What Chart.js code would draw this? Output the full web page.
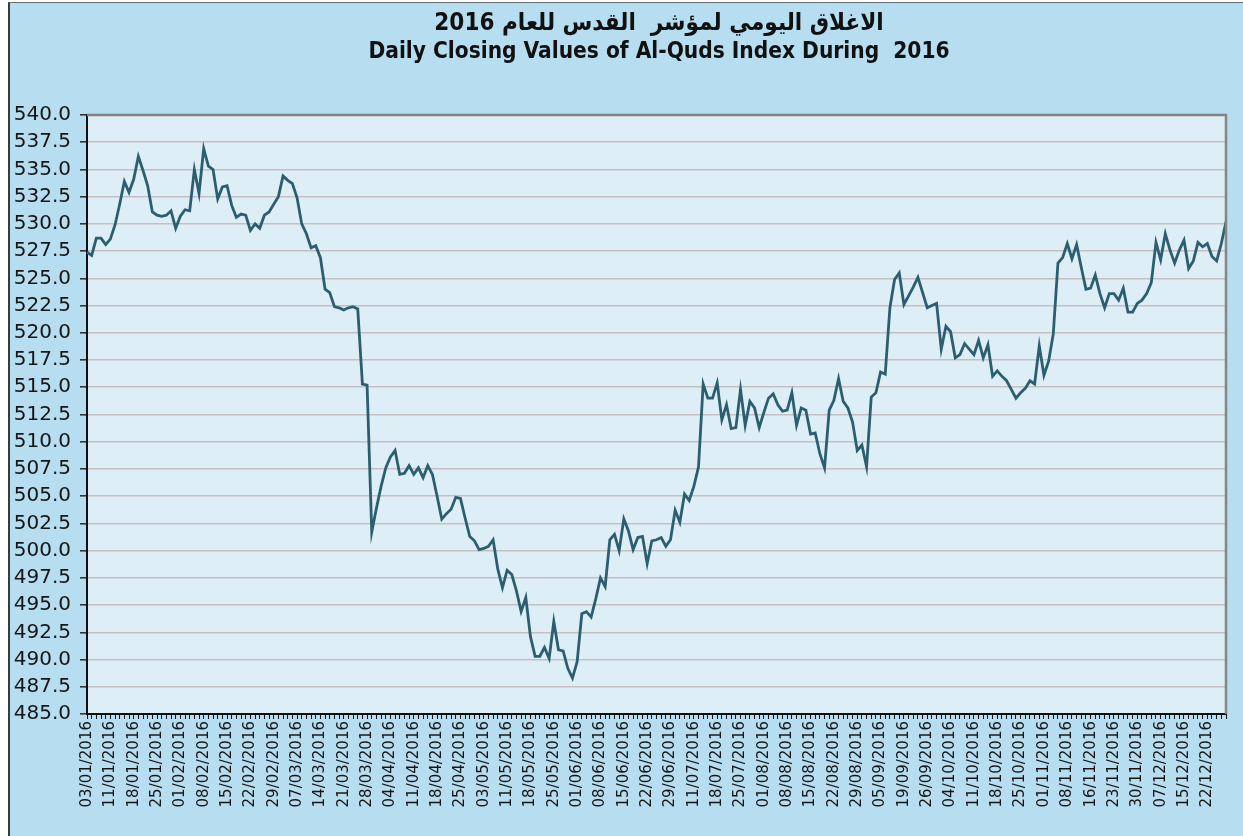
<!DOCTYPE html>
<html>
<head>
<meta charset="utf-8">
<script src="https://cdn.jsdelivr.net/npm/chart.js@4/dist/chart.umd.min.js"></script>
<style>
  body { margin: 0; background: #ffffff; overflow: hidden; }
  #frame {
    position: absolute; left: 8px; top: 2px; width: 1235px; height: 834px;
    background: #b7def0; border-left: 2px solid #3a3a3a; border-top: 1px solid #6a6a6a;
    box-sizing: border-box;
  }
  #id_canv { position: absolute; left: 0; top: 0; }
  .title {
    position: absolute; left: 0; width: 1318px; text-align: center;
    font-family: "Liberation Sans Narrow", "DejaVu Sans Condensed", "DejaVu Sans", sans-serif;
    font-weight: bold; color: #111; white-space: pre;
  }
  #t_ar { top: 8px; font-size: 24px; direction: rtl; font-family: "DejaVu Sans Condensed", "DejaVu Sans", sans-serif; }
  #t_en { top: 37px; font-size: 22.5px; }
</style>
</head>
<body>
<div id="frame">
  <canvas id="id_canv" width="1233" height="833"></canvas>
</div>
<div class="title" id="t_ar">الاغلاق اليومي لمؤشر  القدس للعام 2016</div>
<div class="title" id="t_en">Daily Closing Values of Al-Quds Index During  2016</div>
<script>
// weekly date labels shown under the axis (one every 5 trading days)
const tickLabels = [
  '03/01/2016', '11/01/2016', '18/01/2016', '25/01/2016', '01/02/2016', '08/02/2016',
  '15/02/2016', '22/02/2016', '29/02/2016', '07/03/2016', '14/03/2016', '21/03/2016',
  '28/03/2016', '04/04/2016', '11/04/2016', '18/04/2016', '25/04/2016', '03/05/2016',
  '11/05/2016', '18/05/2016', '25/05/2016', '01/06/2016', '08/06/2016', '15/06/2016',
  '22/06/2016', '29/06/2016', '11/07/2016', '18/07/2016', '25/07/2016', '01/08/2016',
  '08/08/2016', '15/08/2016', '22/08/2016', '29/08/2016', '05/09/2016', '19/09/2016',
  '26/09/2016', '04/10/2016', '11/10/2016', '18/10/2016', '25/10/2016', '01/11/2016',
  '08/11/2016', '16/11/2016', '23/11/2016', '30/11/2016', '07/12/2016', '15/12/2016',
  '22/12/2016'
]

// daily closing values
const closing = [
  527.4, 527.1, 528.7, 528.7, 528.1, 528.6, 529.9, 531.8, 533.9, 532.9,
  534.1, 536.2, 534.9, 533.5, 531.1, 530.8, 530.7, 530.8, 531.2, 529.6,
  530.7, 531.3, 531.2, 535.0, 532.8, 536.9, 535.3, 535.0, 532.3, 533.4,
  533.5, 531.7, 530.6, 530.9, 530.8, 529.4, 530.0, 529.6, 530.8, 531.1,
  531.8, 532.5, 534.4, 534.0, 533.7, 532.4, 530.0, 529.1, 527.8, 528.0,
  526.9, 524.0, 523.7, 522.4, 522.3, 522.1, 522.3, 522.4, 522.2, 515.3,
  515.2, 501.7, 503.9, 505.9, 507.6, 508.6, 509.2, 507.0, 507.1, 507.8,
  507.0, 507.6, 506.7, 507.8, 507.0, 505.0, 502.9, 503.4, 503.8, 504.9,
  504.8, 503.0, 501.3, 500.9, 500.1, 500.2, 500.4, 501.0, 498.3, 496.6,
  498.2, 497.8, 496.3, 494.4, 495.7, 492.1, 490.3, 490.3, 491.1, 490.1,
  493.5, 490.9, 490.8, 489.2, 488.3, 489.8, 494.2, 494.4, 493.9, 495.6,
  497.5, 496.7, 501.0, 501.5, 500.0, 502.9, 501.8, 500.1, 501.2, 501.3,
  498.8, 500.9, 501.0, 501.2, 500.4, 501.0, 503.7, 502.6, 505.2, 504.6,
  505.9, 507.7, 515.3, 514.0, 514.0, 515.4, 512.0, 513.4, 511.2, 511.3,
  514.8, 511.5, 513.7, 513.1, 511.3, 512.7, 514.0, 514.4, 513.4, 512.8,
  512.9, 514.5, 511.5, 513.1, 512.9, 510.7, 510.8, 508.9, 507.6, 512.9,
  513.8, 515.8, 513.7, 513.1, 511.8, 509.2, 509.7, 507.7, 514.1, 514.5,
  516.4, 516.2, 522.3, 524.9, 525.5, 522.6, 523.4, 524.2, 525.1, 523.7,
  522.3, 522.5, 522.7, 518.5, 520.6, 520.1, 517.7, 518.0, 519.0, 518.5,
  518.0, 519.3, 517.7, 518.9, 516.0, 516.5, 516.0, 515.6, 514.8, 514.0,
  514.5, 514.9, 515.6, 515.3, 518.8, 516.1, 517.4, 519.9, 526.4, 526.9,
  528.2, 526.8, 528.1, 526.0, 524.0, 524.1, 525.3, 523.6, 522.3, 523.6,
  523.6, 523.0, 524.1, 521.9, 521.9, 522.7, 523.0, 523.6, 524.6, 528.3,
  526.7, 529.1, 527.6, 526.4, 527.6, 528.5, 525.9, 526.6, 528.3, 527.9,
  528.2, 527.0, 526.6, 528.2, 530.2
]

const yMin = 485
const yMax = 540
const yStep = 2.5

// one category per trading day, the date only on every 5th one
const categories = closing.map((v, i) => (i % 5 === 0 && tickLabels[i / 5]) ? tickLabels[i / 5] : '')

/* fills the plot area and draws its grey top/right frame */
const plotFrame = {
  id: 'plotFrame',
  beforeDraw(chart) {
    const a = chart.chartArea
    const c = chart.ctx
    c.save()
    c.fillStyle = '#deeef7'
    c.fillRect(a.left, a.top, a.right - a.left, a.bottom - a.top)
    c.restore()
  },
  afterDraw(chart) {
    const a = chart.chartArea
    const c = chart.ctx
    c.save()
    c.strokeStyle = '#858585'
    c.lineWidth = 2.5
    c.beginPath()
    c.moveTo(a.left, a.top)
    c.lineTo(a.right, a.top)
    c.lineTo(a.right, a.bottom)
    c.stroke()
    c.restore()
  }
}

let c = document.getElementById('id_canv').getContext('2d')
new Chart(c, {
  type: 'line',
  data: {
    labels: categories,
    datasets: [{
      data: closing,
      borderColor: '#2b5f6f',
      borderWidth: 2.8,
      pointRadius: 0,
      tension: 0,
      fill: false
    }]
  },
  plugins: [plotFrame],
  options: {
    responsive: false,
    animation: false,
    devicePixelRatio: 1,
    layout: { autoPadding: false, padding: { top: 112, right: 17, bottom: 0, left: 0 } },
    plugins: {
      legend: { display: false },
      tooltip: { enabled: false },
      title: { display: false }
    },
    scales: {
      x: {
        offset: false,
        grid: { drawOnChartArea: false, drawTicks: true, tickLength: 5, tickColor: '#111', lineWidth: 1 },
        border: { display: true, color: '#111', width: 2 },
        ticks: {
          autoSkip: false, maxRotation: 90, minRotation: 90, padding: 2,
          color: '#151515',
          font: { family: 'DejaVu Sans', size: 15 }
        },
        afterFit(scale) {
          scale.height = 122
          scale.paddingLeft = 0
          scale.paddingRight = 0
        }
      },
      y: {
        min: yMin,
        max: yMax,
        grid: { color: '#c3bfc3', lineWidth: 1.6, tickColor: '#333', tickLength: 7 },
        border: { display: true, color: '#111', width: 2 },
        ticks: {
          stepSize: yStep, padding: 9, color: '#151515',
          font: { family: 'DejaVu Sans', size: 20 },
          callback: (v) => v.toFixed(1)
        },
        afterFit(scale) { scale.width = 77 }
      }
    }
  }
})
</script>
</body>
</html>
